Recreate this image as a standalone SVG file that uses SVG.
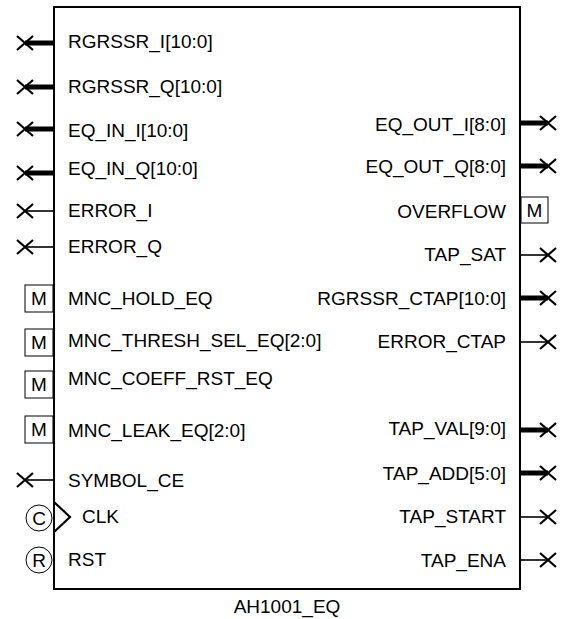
<svg xmlns="http://www.w3.org/2000/svg" width="565" height="619" viewBox="0 0 565 619">
<style>
text{font-family:"Liberation Sans",Arial,sans-serif;font-size:19px;fill:#000}
.r{text-anchor:end}
.m{text-anchor:middle}
.body{fill:#fff;stroke:#000;stroke-width:2}
.w{stroke:#000;stroke-width:1.6;fill:none}
.b{stroke:#000;stroke-width:5;fill:none}
.x{stroke:#000;stroke-width:2.2;fill:none}
.mb{fill:#fff;stroke:#000;stroke-width:1}
</style>
<defs>
<path id="xm" class="x" d="M-8,-7L8,7M-8,7L8,-7"/>
</defs>
<g id="block">
<rect class="body" x="54" y="7" width="466" height="582"/>
<text class="m" x="287" y="613">AH1001_EQ</text>
</g>
<g id="connectors">
<line class="b" x1="25" y1="43" x2="54" y2="43"/>
<line class="b" x1="25" y1="87" x2="54" y2="87"/>
<line class="b" x1="25" y1="129" x2="54" y2="129"/>
<line class="b" x1="25" y1="173" x2="54" y2="173"/>
<line class="w" x1="25" y1="211" x2="54" y2="211"/>
<line class="w" x1="25" y1="247" x2="54" y2="247"/>
<line class="w" x1="25" y1="480" x2="54" y2="480"/>
<line class="b" x1="520" y1="123" x2="548" y2="123"/>
<line class="b" x1="520" y1="166" x2="548" y2="166"/>
<line class="w" x1="520" y1="255" x2="548" y2="255"/>
<line class="b" x1="520" y1="298" x2="548" y2="298"/>
<line class="w" x1="520" y1="342" x2="548" y2="342"/>
<line class="b" x1="520" y1="430" x2="548" y2="430"/>
<line class="b" x1="520" y1="473" x2="548" y2="473"/>
<line class="w" x1="520" y1="517" x2="548" y2="517"/>
<line class="w" x1="520" y1="560" x2="548" y2="560"/>
</g>
<g id="pin-RGRSSR_I"><use href="#xm" x="25" y="43"/><text x="68" y="48">RGRSSR_I[10:0]</text></g>
<g id="pin-RGRSSR_Q"><use href="#xm" x="25" y="87"/><text x="68" y="93">RGRSSR_Q[10:0]</text></g>
<g id="pin-EQ_IN_I"><use href="#xm" x="25" y="129"/><text x="68" y="137">EQ_IN_I[10:0]</text></g>
<g id="pin-EQ_IN_Q"><use href="#xm" x="25" y="173"/><text x="68" y="175">EQ_IN_Q[10:0]</text></g>
<g id="pin-ERROR_I"><use href="#xm" x="25" y="211"/><text x="68" y="217">ERROR_I</text></g>
<g id="pin-ERROR_Q"><use href="#xm" x="25" y="247"/><text x="68" y="253">ERROR_Q</text></g>
<g id="pin-MNC_HOLD_EQ"><rect class="mb" x="25" y="285" width="28" height="27"/><text class="m" x="39" y="305">M</text><text x="68" y="305">MNC_HOLD_EQ</text></g>
<g id="pin-MNC_THRESH_SEL_EQ"><rect class="mb" x="25" y="329" width="28" height="27"/><text class="m" x="39" y="349">M</text><text x="68" y="347">MNC_THRESH_SEL_EQ[2:0]</text></g>
<g id="pin-MNC_COEFF_RST_EQ"><rect class="mb" x="25" y="371" width="28" height="27"/><text class="m" x="39" y="391">M</text><text x="68" y="385">MNC_COEFF_RST_EQ</text></g>
<g id="pin-MNC_LEAK_EQ"><rect class="mb" x="25" y="416" width="28" height="27"/><text class="m" x="39" y="436">M</text><text x="68" y="437">MNC_LEAK_EQ[2:0]</text></g>
<g id="pin-SYMBOL_CE"><use href="#xm" x="25" y="480"/><text x="68" y="487">SYMBOL_CE</text></g>
<g id="pin-CLK"><circle class="mb" cx="39" cy="518" r="13"/><text class="m" x="39" y="525">C</text><path class="x" d="M54,502L70,517L54,532"/><text x="82" y="523">CLK</text></g>
<g id="pin-RST"><circle class="mb" cx="39" cy="560" r="13"/><text class="m" x="39" y="567">R</text><text x="68" y="566">RST</text></g>
<g id="pin-EQ_OUT_I"><use href="#xm" x="548" y="123"/><text class="r" x="506" y="131">EQ_OUT_I[8:0]</text></g>
<g id="pin-EQ_OUT_Q"><use href="#xm" x="548" y="166"/><text class="r" x="506" y="173">EQ_OUT_Q[8:0]</text></g>
<g id="pin-OVERFLOW"><rect class="mb" x="521" y="197" width="27" height="26"/><text class="m" x="534.5" y="217">M</text><text class="r" x="506" y="218">OVERFLOW</text></g>
<g id="pin-TAP_SAT"><use href="#xm" x="548" y="255"/><text class="r" x="506" y="261">TAP_SAT</text></g>
<g id="pin-RGRSSR_CTAP"><use href="#xm" x="548" y="298"/><text class="r" x="506" y="305">RGRSSR_CTAP[10:0]</text></g>
<g id="pin-ERROR_CTAP"><use href="#xm" x="548" y="342"/><text class="r" x="506" y="348">ERROR_CTAP</text></g>
<g id="pin-TAP_VAL"><use href="#xm" x="548" y="430"/><text class="r" x="506" y="435">TAP_VAL[9:0]</text></g>
<g id="pin-TAP_ADD"><use href="#xm" x="548" y="473"/><text class="r" x="506" y="480">TAP_ADD[5:0]</text></g>
<g id="pin-TAP_START"><use href="#xm" x="548" y="517"/><text class="r" x="506" y="523">TAP_START</text></g>
<g id="pin-TAP_ENA"><use href="#xm" x="548" y="560"/><text class="r" x="506" y="567">TAP_ENA</text></g>
</svg>
